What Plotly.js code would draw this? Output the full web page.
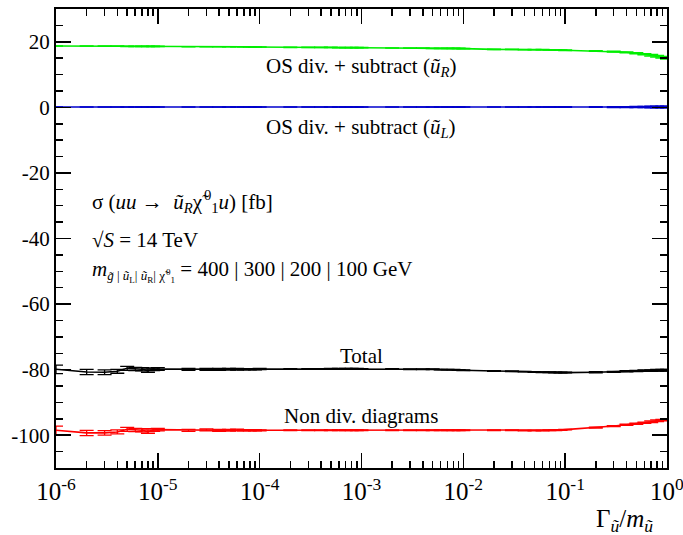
<!DOCTYPE html>
<html>
<head>
<meta charset="utf-8">
<script src="https://cdn.plot.ly/plotly-3.0.1.min.js"></script>
<style>html,body{margin:0;padding:0;background:#fff;}#plot{width:683px;height:535px;}</style>
</head>
<body>
<div id="plot"></div>
<script>
// Gamma / m values (x)
const gamma = [
  1e-6,2e-6,3e-6,4e-6,5e-6,6e-6,7e-6,8e-6,9e-6,
  1e-5,2e-5,3e-5,4e-5,5e-5,6e-5,7e-5,8e-5,9e-5,
  1e-4,2e-4,3e-4,4e-4,5e-4,6e-4,7e-4,8e-4,9e-4,
  1e-3,2e-3,3e-3,4e-3,5e-3,6e-3,7e-3,8e-3,9e-3,
  1e-2,2e-2,3e-2,4e-2,5e-2,6e-2,7e-2,8e-2,9e-2,
  1e-1,2e-1,3e-1,4e-1,5e-1,6e-1,7e-1,8e-1,9e-1,
  1
];
// OS div. + subtract (u_R) – green
const osSubR = [
  18.7,18.7,18.7,18.7,18.6,18.6,18.6,18.6,18.6,
  18.6,18.5,18.5,18.5,18.5,18.5,18.5,18.4,18.4,
  18.4,18.3,18.3,18.3,18.3,18.2,18.2,18.2,18.2,
  18.2,18.1,18.1,18.1,18.0,18.0,18.0,18.0,18.0,
  17.9,17.7,17.7,17.6,17.6,17.6,17.5,17.5,17.5,
  17.4,17.2,17.0,16.8,16.5,16.2,15.9,15.6,15.3,
  15.0
];
// OS div. + subtract (u_L) – blue
const osSubL = [
  0.1,0.1,0.1,0.1,0.1,0.1,0.1,0.1,0.1,
  0.1,0.1,0.1,0.1,0.1,0.1,0.1,0.1,0.1,
  0.1,0.1,0.1,0.1,0.1,0.1,0.1,0.1,0.1,
  0.1,0.1,0.1,0.1,0.1,0.1,0.1,0.1,0.1,
  0.1,0.1,0.1,0.1,0.1,0.1,0.1,0.1,0.1,
  0.1,0.1,0.1,0.1,0.1,0.1,0.1,0.1,0.1,
  0.1
];
// Total – black
const total = [
  -79.9,-80.7,-80.8,-80.5,-79.6,-79.8,-79.9,-80.3,-79.9,
  -79.8,-79.9,-79.9,-79.9,-79.9,-79.9,-79.9,-79.9,-79.9,
  -79.8,-79.8,-79.8,-79.8,-79.7,-79.7,-79.7,-79.7,-79.7,
  -79.8,-79.8,-79.9,-79.9,-79.9,-80.0,-80.0,-80.0,-80.1,
  -80.2,-80.4,-80.5,-80.6,-80.7,-80.8,-80.8,-80.9,-80.9,
  -80.9,-80.8,-80.7,-80.5,-80.4,-80.3,-80.3,-80.2,-80.2,
  -80.2
];
// Non div. diagrams – red
const nonDiv = [
  -98.5,-99.3,-99.3,-99.0,-98.2,-98.4,-98.5,-98.9,-98.4,
  -98.3,-98.5,-98.4,-98.5,-98.5,-98.4,-98.5,-98.5,-98.5,
  -98.5,-98.5,-98.5,-98.5,-98.5,-98.5,-98.5,-98.5,-98.5,
  -98.5,-98.5,-98.5,-98.5,-98.5,-98.5,-98.5,-98.5,-98.5,
  -98.5,-98.5,-98.5,-98.6,-98.6,-98.6,-98.5,-98.5,-98.4,
  -98.3,-97.7,-97.2,-96.8,-96.5,-96.2,-95.9,-95.6,-95.4,
  -95.2
];
// statistical errors
const errBig = [
  1.3,0.8,0.7,0.6,0.6,0.5,0.5,0.5,0.4,
  0.4,0.3,0.3,0.3,0.25,0.25,0.2,0.2,0.2,
  0.15,0.1,0.1,0.1,0.1,0.1,0.1,0.1,0.1,
  0.1,0.1,0.1,0.1,0.1,0.1,0.1,0.1,0.1,
  0.1,0.1,0.1,0.1,0.1,0.1,0.1,0.1,0.1,
  0.1,0.15,0.15,0.2,0.2,0.2,0.25,0.25,0.25,
  0.25
];
const errSmall = [
  0.05,0.05,0.05,0.05,0.05,0.05,0.05,0.05,0.05,
  0.05,0.05,0.05,0.05,0.05,0.05,0.05,0.05,0.05,
  0.05,0.05,0.05,0.05,0.05,0.05,0.05,0.05,0.05,
  0.05,0.05,0.05,0.05,0.05,0.05,0.05,0.05,0.05,
  0.05,0.05,0.05,0.05,0.05,0.05,0.05,0.05,0.05,
  0.1,0.1,0.15,0.15,0.2,0.2,0.25,0.25,0.25,
  0.25
];
const yTickVals = [-100,-80,-60,-40,-20,0,20];
const yTickText = ['-100','-80','-60','-40','-20','0','20'];
const xTickVals = [1e-6,1e-5,1e-4,1e-3,1e-2,1e-1,1];
const xTickText = ['10<sup>-6</sup>','10<sup>-5</sup>','10<sup>-4</sup>','10<sup>-3</sup>','10<sup>-2</sup>','10<sup>-1</sup>','10<sup>0</sup>'];

const FONT = 'Liberation Serif';
const TS = 21;

function series(y, err, color) {
  return {
    x: gamma, y: y, type: 'scatter', mode: 'lines',
    line: {color: color, width: 1.6},
    error_y: {type: 'data', array: err, visible: true, color: color, thickness: 1.3, width: 7},
    showlegend: false, hoverinfo: 'skip'
  };
}

const data = [
  series(osSubR, errSmall, '#00ee00'),
  series(osSubL, errSmall, '#0000cc'),
  series(total, errBig, '#000000'),
  series(nonDiv, errBig, '#ff0000')
];

const ann = (x, y, text) => ({
  x: Math.log10(x), y: y, xref: 'x', yref: 'y', text: text, showarrow: false,
  font: {family: FONT, size: TS, color: '#000'}
});

const layout = {
  width: 683, height: 535,
  margin: {l: 56, r: 16, t: 9, b: 67},
  paper_bgcolor: '#fff', plot_bgcolor: '#fff',
  font: {family: FONT, color: '#000'},
  xaxis: {
    type: 'log', range: [-6, 0.0001], tickmode: 'array', tickvals: xTickVals, ticktext: xTickText,
    ticklabeloverflow: 'allow',
    ticks: 'inside', ticklen: 15, tickwidth: 1.5, tickcolor: '#000',
    minor: {ticks: 'inside', ticklen: 7, tickwidth: 1.5, tickcolor: '#000', showgrid: false, dtick: 'D1'},
    showline: true, linewidth: 2, linecolor: '#000', mirror: 'ticks',
    showgrid: false, zeroline: false,
    tickfont: {family: FONT, size: 25, color: '#000'}
  },
  yaxis: {
    range: [-110, 30], tickmode: 'array', tickvals: yTickVals, ticktext: yTickText,
    ticks: 'inside', ticklen: 15, tickwidth: 1.5, tickcolor: '#000',
    minor: {ticks: 'inside', ticklen: 7, tickwidth: 1.5, tickcolor: '#000', dtick: 5, tick0: 0, showgrid: false},
    showline: true, linewidth: 2, linecolor: '#000', mirror: 'ticks',
    showgrid: false, zeroline: false,
    tickfont: {family: FONT, size: 21, color: '#000'}
  },
  annotations: [
    ann(1e-3, 12.3, 'OS div. + subtract (<i>ũ</i><sub><i>R</i></sub>)'),
    ann(1e-3, -6.2, 'OS div. + subtract (<i>ũ</i><sub><i>L</i></sub>)'),
    ann(1e-3, -75.7, 'Total'),
    ann(1e-3, -94.1, 'Non div. diagrams'),
    {xref: 'paper', yref: 'paper', x: 0.055, y: 0.58, xanchor: 'left', showarrow: false,
     text: 'σ (<i>uu</i> →  <i>ũ</i><sub><i>R</i></sub>χ̃\u200A<sup>0</sup><sub>1</sub><i>u</i>) [fb]',
     font: {family: FONT, size: TS, color: '#000'}},
    {xref: 'paper', yref: 'paper', x: 0.055, y: 0.497, xanchor: 'left', showarrow: false,
     text: '√<i>S</i> = 14 TeV',
     font: {family: FONT, size: TS, color: '#000'}},
    {xref: 'paper', yref: 'paper', x: 0.055, y: 0.43, xanchor: 'left', showarrow: false,
     text: '<i>m</i><sub><span style="font-size:13px"><i>g̃</i> | <i>ũ</i><sub>L</sub>| <i>ũ</i><sub>R</sub>| χ̃\u200A<sup>0</sup><sub>1</sub></span></sub> = 400 | 300 | 200 | 100 GeV',
     font: {family: FONT, size: TS, color: '#000'}},
    {xref: 'paper', yref: 'paper', x: 0.98, y: -0.115, xanchor: 'right', yanchor: 'middle', showarrow: false,
     text: 'Γ<sub><i>ũ</i></sub>/<i>m</i><sub><i>ũ</i></sub>',
     font: {family: FONT, size: 25, color: '#000'}}
  ]
};

Plotly.newPlot('plot', data, layout, {displayModeBar: false, staticPlot: true});
</script>
</body>
</html>
